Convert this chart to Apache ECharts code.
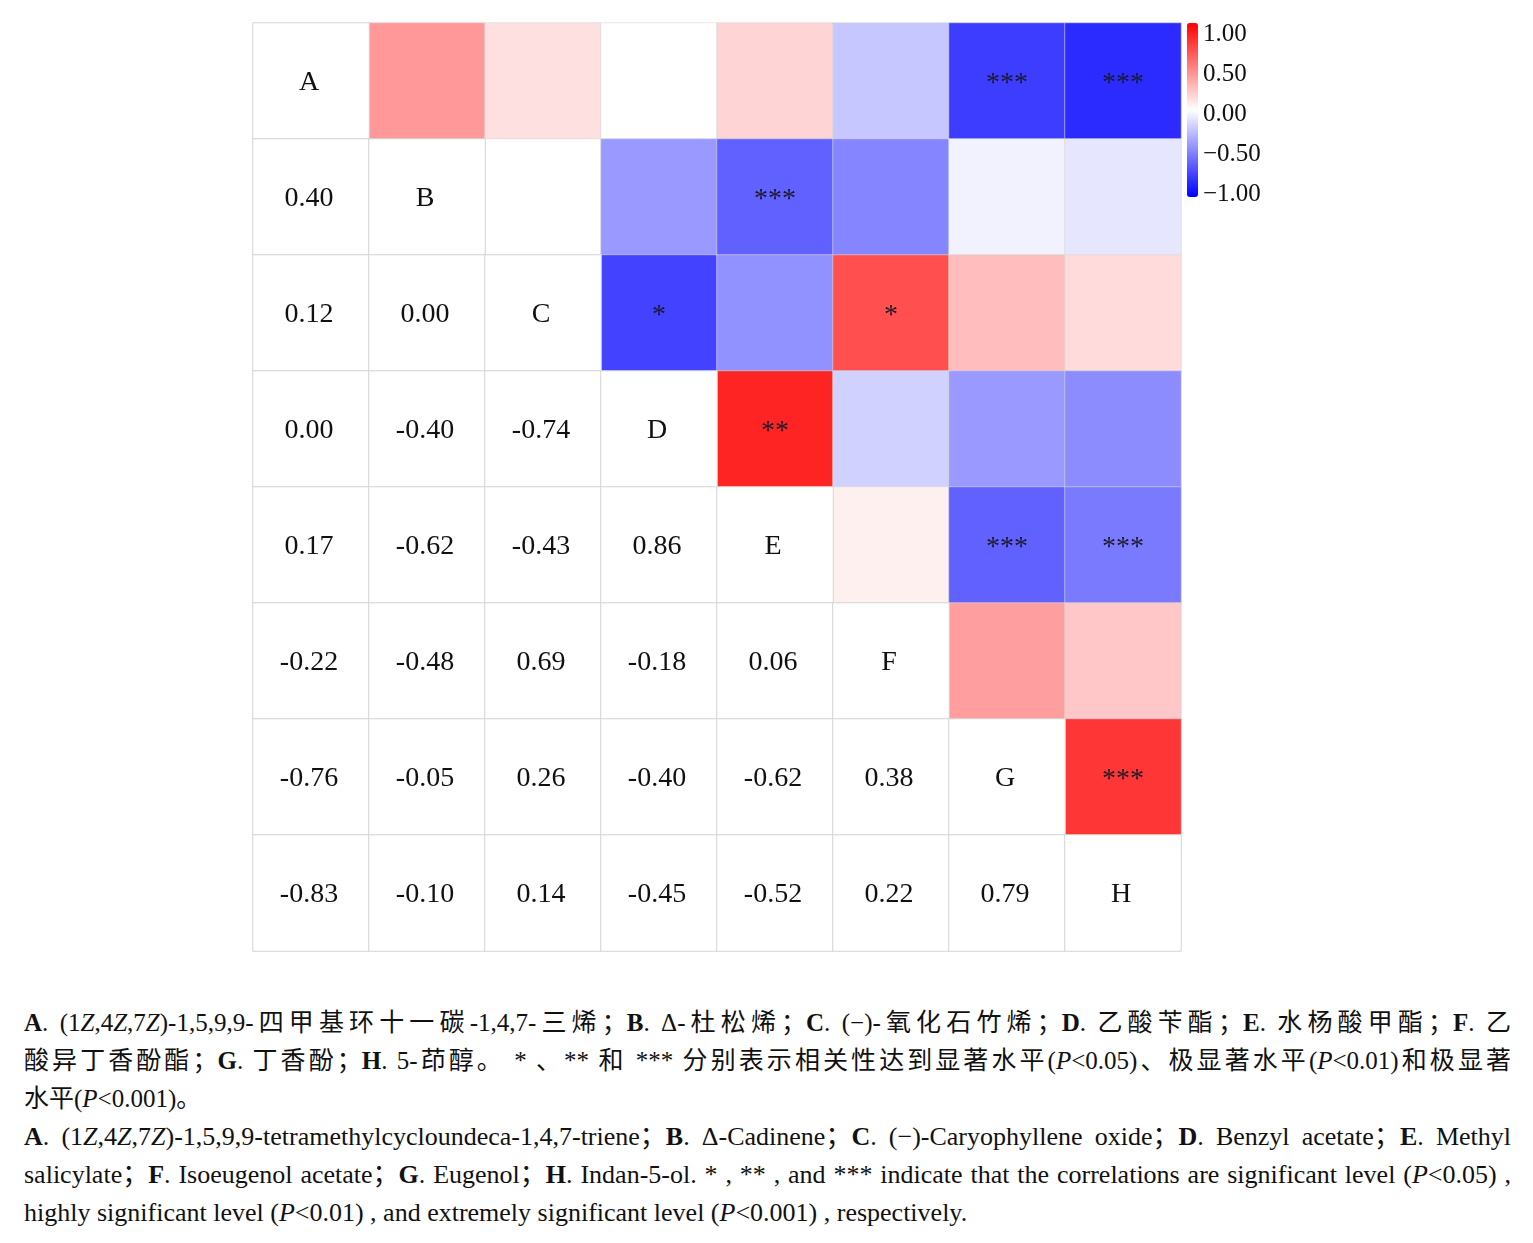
<!DOCTYPE html>
<html>
<head>
<meta charset="utf-8">
<script src="https://cdn.jsdelivr.net/npm/echarts/dist/echarts.min.js"></script>
<style>
body{margin:0;background:#fff;}
#chart{width:1533px;height:990px;}
#note{position:absolute;left:24px;top:1004px;width:1487px;font-family:'Liberation Serif','Noto Sans CJK SC',serif;font-size:25px;line-height:38px;color:#111;}
#note div{text-align:justify;text-align-last:justify;white-space:nowrap;}
#note div.en{font-size:26px;}
#note div.end{text-align-last:left;}
</style>
</head>
<body>
<div id="chart"></div>
<div id="note">
<div><b>A</b>. (1<i>Z</i>,4<i>Z</i>,7<i>Z</i>)-1,5,9,9-四甲基环十一碳-1,4,7-三烯；<b>B</b>. Δ-杜松烯；<b>C</b>. (−)-氧化石竹烯；<b>D</b>. 乙酸苄酯；<b>E</b>. 水杨酸甲酯；<b>F</b>. 乙</div>
<div>酸异丁香酚酯；<b>G</b>. 丁香酚；<b>H</b>. 5-茚醇。 * 、** 和 *** 分别表示相关性达到显著水平(<i>P</i>&lt;0.05)、极显著水平(<i>P</i>&lt;0.01)和极显著</div>
<div class="end">水平(<i>P</i>&lt;0.001)。</div>
<div class="en"><b>A</b>. (1<i>Z</i>,4<i>Z</i>,7<i>Z</i>)-1,5,9,9-tetramethylcycloundeca-1,4,7-triene；<b>B</b>. Δ-Cadinene；<b>C</b>. (−)-Caryophyllene oxide；<b>D</b>. Benzyl acetate；<b>E</b>. Methyl</div>
<div class="en">salicylate；<b>F</b>. Isoeugenol acetate；<b>G</b>. Eugenol；<b>H</b>. Indan-5-ol. * , ** , and *** indicate that the correlations are significant level (<i>P</i>&lt;0.05) ,</div>
<div class="en end">highly significant level (<i>P</i>&lt;0.01) , and extremely significant level (<i>P</i>&lt;0.001) , respectively.</div>
</div>
<script>
(function() {
    // 化合物名称
    var names = ['A', 'B', 'C', 'D', 'E', 'F', 'G', 'H'];
    // 下三角相关系数（第i行对应列 0..i-1）
    var corrRows = [
        [],
        [0.40],
        [0.12, 0.00],
        [0.00, -0.40, -0.74],
        [0.17, -0.62, -0.43, 0.86],
        [-0.22, -0.48, 0.69, -0.18, 0.06],
        [-0.76, -0.05, 0.26, -0.40, -0.62, 0.38],
        [-0.83, -0.10, 0.14, -0.45, -0.52, 0.22, 0.79]
    ];
    // 显著性标记
    var sigRows = [
        [],
        [''],
        ['', ''],
        ['', '', '*'],
        ['', '***', '', '**'],
        ['', '', '*', '', ''],
        ['***', '', '', '', '***', ''],
        ['***', '', '', '', '***', '', '***']
    ];
    // 色标刻度
    var barTicks = [-1, -0.5, 0, 0.5, 1];

    var serif = 'Liberation Serif';

    var upperData = [];
    var lowerData = [];
    for (var i = 0; i < names.length; i++) {
        for (var j = 0; j < i; j++) {
            var r = corrRows[i][j];
            upperData.push([i, j, r, sigRows[i][j]]);
            lowerData.push([j, i, r, r.toFixed(2)]);
        }
        lowerData.push([i, i, 0, names[i]]);
    }

    var fmtTick = function(v) {
        return v < 0 ? '\u2212' + Math.abs(v).toFixed(2) : v.toFixed(2);
    };

    var echart = echarts.init(document.getElementById('chart'));
    var option = {
        animation: false,
        grid: [{
            left: 253,
            top: 23,
            width: 928,
            height: 928
        }, {
            left: 1198,
            top: 34,
            width: 1,
            height: 160
        }],
        xAxis: [{
            type: 'category',
            data: names,
            show: false
        }, {
            type: 'value',
            gridIndex: 1,
            show: false
        }],
        yAxis: [{
            type: 'category',
            data: names,
            inverse: true,
            show: false
        }, {
            type: 'value',
            gridIndex: 1,
            position: 'right',
            min: barTicks[0],
            max: barTicks[barTicks.length - 1],
            interval: barTicks[1] - barTicks[0],
            axisLine: { show: false },
            axisTick: { show: false },
            splitLine: { show: false },
            axisLabel: {
                margin: 4,
                fontSize: 25,
                fontFamily: serif,
                color: '#111',
                formatter: fmtTick
            }
        }],
        visualMap: {
            type: 'continuous',
            seriesIndex: 0,
            dimension: 2,
            min: -1,
            max: 1,
            calculable: false,
            left: 1187,
            top: 23,
            padding: 0,
            itemWidth: 11,
            itemHeight: 174,
            inRange: {
                color: ['#0000ff', '#ffffff', '#ff0000']
            }
        },
        series: [{
            type: 'heatmap',
            data: upperData,
            emphasis: { disabled: true },
            itemStyle: {
                borderColor: 'rgba(215,215,215,0.6)',
                borderWidth: 1
            },
            label: {
                show: true,
                offset: [0, 3],
                fontSize: 28,
                fontFamily: serif,
                color: '#1a1a2a',
                formatter: function(p) {
                    return p.value[3];
                }
            }
        }, {
            type: 'heatmap',
            data: lowerData,
            emphasis: { disabled: true },
            itemStyle: {
                color: '#ffffff',
                borderColor: '#d4d4d4',
                borderWidth: 1
            },
            label: {
                show: true,
                offset: [-2, 2],
                fontSize: 28,
                fontFamily: serif,
                color: '#111',
                formatter: function(p) {
                    return p.value[3];
                }
            }
        }]
    };
    echart.setOption(option);
})();
</script>
</body>
</html>
